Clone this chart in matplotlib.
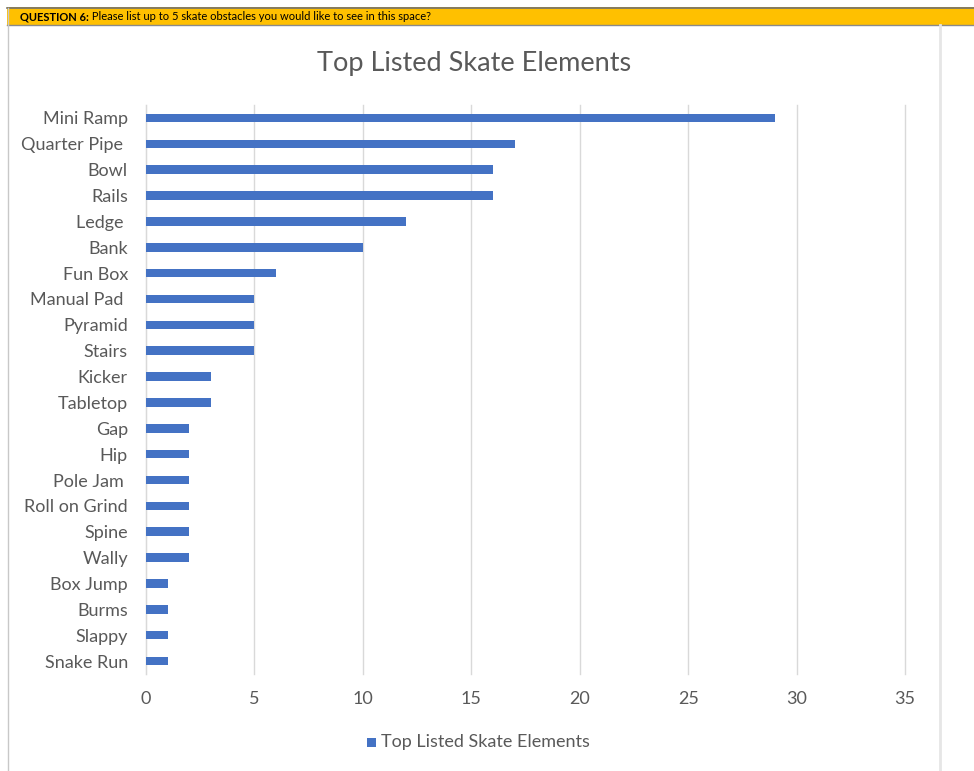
import matplotlib
matplotlib.use("Agg")
import matplotlib.pyplot as plt
from matplotlib.patches import Rectangle
from matplotlib.lines import Line2D

categories = ["Mini Ramp", "Quarter Pipe ", "Bowl", "Rails", "Ledge ", "Bank",
              "Fun Box", "Manual Pad ", "Pyramid", "Stairs", "Kicker", "Tabletop",
              "Gap", "Hip", "Pole Jam ", "Roll on Grind", "Spine", "Wally",
              "Box Jump", "Burms", "Slappy", "Snake Run"]
values = [29, 17, 16, 16, 12, 10, 6, 5, 5, 5, 3, 3, 2, 2, 2, 2, 2, 2, 1, 1, 1, 1]
xticks = [0, 5, 10, 15, 20, 25, 30, 35]
title = "Top Listed Skate Elements"
series_name = "Top Listed Skate Elements"
header_bold = "QUESTION 6:"
header_rest = " Please list up to 5 skate obstacles you would like to see in this space?"

plt.rcParams['font.family'] = ['Lato', 'DejaVu Sans']
W, H = 974, 771
fig = plt.figure(figsize=(W / 100, H / 100), dpi=100)

def fx(px):
    return px / W

def fy(py):
    return 1 - py / H

# Header bar
fig.patches.append(Rectangle((fx(7), fy(25)), fx(974 - 7), (18) / H,
                             transform=fig.transFigure, facecolor="#FFC000",
                             edgecolor="none", zorder=1))
fig.lines.append(Line2D([fx(7), 1], [fy(7.5), fy(7.5)], transform=fig.transFigure,
                        color="#707070", lw=1.2))
fig.lines.append(Line2D([fx(7), 1], [fy(25), fy(25)], transform=fig.transFigure,
                        color="#8a8a8a", lw=1.0))
fig.lines.append(Line2D([fx(7.5), fx(7.5)], [0, fy(7.5)], transform=fig.transFigure,
                        color="#c8c8c8", lw=1.0))
fig.lines.append(Line2D([fx(940), fx(940)], [0, fy(25)], transform=fig.transFigure,
                        color="#e6e6e6", lw=2.0))

t1 = fig.text(fx(20), fy(16.5), header_bold, fontsize=8, fontweight="bold",
              color="#000000", va="center", ha="left")
fig.canvas.draw()
bb = t1.get_window_extent()
fig.text(bb.x1 / W, fy(16.5), header_rest, fontsize=8, color="#000000",
         va="center", ha="left")

# Axes: x=0 at 146px, x=35 at 905px; top 105px, bottom 674px
ax = fig.add_axes([fx(146), fy(674), fx(905 - 146), (674 - 105) / H])
ypos = list(range(len(categories)))
ax.barh(ypos, values, height=0.33, color="#4472C4", zorder=3)
ax.set_ylim(len(categories) - 0.5, -0.5)
ax.set_xlim(0, 35)
ax.set_xticks(xticks)
ax.set_xticklabels([str(v) for v in xticks])
ax.set_yticks(ypos)
ax.set_yticklabels(categories)
ax.grid(axis="x", color="#D9D9D9", lw=1.0, zorder=0)
for gl in ax.get_xgridlines():
    gl.set_clip_on(False)
for s in ["top", "right", "bottom"]:
    ax.spines[s].set_visible(False)
ax.spines["left"].set_color("#D9D9D9")
ax.tick_params(axis="both", length=0, colors="#595959", labelsize=13)
ax.tick_params(axis="y", pad=13)
ax.tick_params(axis="x", pad=12)

fig.text(fx(474), fy(63), title, fontsize=19.5, color="#595959", ha="center", va="center")

# Legend
fig.patches.append(Rectangle((fx(367), fy(747)), 9 / W, 9 / H, transform=fig.transFigure,
                             facecolor="#4472C4", edgecolor="none"))
fig.text(fx(381), fy(742.5), series_name, fontsize=13, color="#595959", ha="left", va="center")

fig.savefig("out.png", dpi=100, facecolor="white")
